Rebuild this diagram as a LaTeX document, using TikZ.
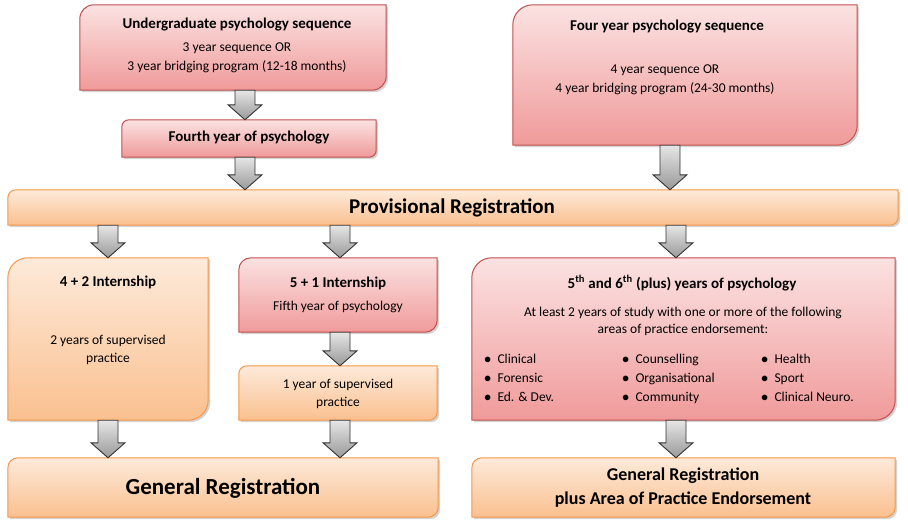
\documentclass[tikz,border=0pt]{standalone}
\usepackage{fontspec}
\setmainfont{Carlito}
\usetikzlibrary{backgrounds,shadows,calc}
\definecolor{obord}{HTML}{F79646}
\definecolor{otop}{HTML}{FDEADA}
\definecolor{obot}{HTML}{FAC08F}
\definecolor{pbord}{HTML}{C0504D}
\definecolor{ptop}{HTML}{FBE2E2}
\definecolor{pbot}{HTML}{F09A9A}
\tikzset{
 frame/.style={inner sep=0pt,draw=none},
 orange/.style={draw=obord,line width=1pt,top color=otop,bottom color=obot,drop shadow={opacity=0.35,shadow xshift=2pt,shadow yshift=-2pt}},
 pink/.style={draw=pbord,line width=1pt,top color=ptop,bottom color=pbot,drop shadow={opacity=0.35,shadow xshift=2pt,shadow yshift=-2pt}},
 ttl/.style={font=\bfseries\fontsize{15}{18}\selectfont,inner sep=0pt},
 txt/.style={font=\fontsize{13.5}{16}\selectfont,inner sep=0pt,align=center},
 arr/.style={draw=black!80,line width=0.9pt,top color=black!10,bottom color=black!40,line join=miter},
}
\newcommand\shapebox[3]{%
 \path[#2] (#1.west) [rounded corners=#3] -- (#1.north west) -- (#1.north) [sharp corners] -- (#1.north east) -- (#1.east) [rounded corners=#3] -- (#1.south east) -- (#1.south) [sharp corners] -- (#1.south west) -- cycle;}
\newcommand\barrow[3]{% x, from, to
 \path[arr] let \p1=(#2.south), \p2=(#3.north) in
 (#1-10,\y1) -- (#1+10,\y1) -- (#1+10,\y2+15) -- (#1+17,\y2+15) -- (#1,\y2) -- (#1-17,\y2+15) -- (#1-10,\y2+15) -- cycle;}
\begin{document}
\begin{tikzpicture}[x=1pt,y=1pt]
\useasboundingbox (0,0) rectangle (908,-525);
\node[frame,minimum width=306,minimum height=85] (u) at (233,-47.5) {};
\node[frame,minimum width=254,minimum height=37] (f4) at (249,-138.5) {};
\node[frame,minimum width=344,minimum height=140] (fy) at (685,-75) {};
\node[frame,minimum width=890,minimum height=35] (pr) at (453,-207.5) {};
\node[frame,minimum width=200,minimum height=162] (i42) at (108,-339) {};
\node[frame,minimum width=198,minimum height=74] (i51) at (338,-295) {};
\node[frame,minimum width=198,minimum height=54] (y1) at (338,-393) {};
\node[frame,minimum width=423,minimum height=162] (s56) at (683.5,-339) {};
\node[frame,minimum width=430,minimum height=59] (gr) at (223,-487.5) {};
\node[frame,minimum width=423,minimum height=59] (gp) at (683.5,-487.5) {};
\shapebox{u}{pink}{14}
\shapebox{f4}{pink}{7}
\shapebox{fy}{pink}{20}
\shapebox{pr}{orange}{8}
\shapebox{i42}{orange}{20}
\shapebox{i51}{pink}{12}
\shapebox{y1}{orange}{8}
\shapebox{s56}{pink}{20}
\shapebox{gr}{orange}{10}
\shapebox{gp}{orange}{10}
\barrow{245}{u}{f4}
\barrow{245}{f4}{pr}
\barrow{670}{fy}{pr}
\barrow{108}{pr}{i42}
\barrow{340}{pr}{i51}
\barrow{676}{pr}{s56}
\barrow{340}{i51}{y1}
\barrow{108}{i42}{gr}
\barrow{340}{y1}{gr}
\barrow{676}{s56}{gp}
\node[ttl] (ut) at (237,-25) {Undergraduate psychology sequence};
\node[txt] (ub) at (237,-58) {3 year sequence OR\\[3pt]3 year bridging program (12-18 months)};
\node[ttl] (f4t) at (249,-138) {Fourth year of psychology};
\node[ttl] (fyt) at (667,-27) {Four year psychology sequence};
\node[txt] (fyb) at (665,-80) {4 year sequence OR\\[3pt]4 year bridging program (24-30 months)};
\node[font=\bfseries\fontsize{21}{24}\selectfont,inner sep=0pt] (prt) at (452,-208) {Provisional Registration};
\node[ttl] (i42t) at (108,-282) {4 + 2 Internship};
\node[txt] (i42b) at (108,-350) {2 years of supervised\\[2pt]practice};
\node[ttl] (i51t) at (338,-283) {5 + 1 Internship};
\node[txt] (i51b) at (338,-307) {Fifth year of psychology};
\node[txt] (y1b) at (338,-394) {1 year of supervised\\[2pt]practice};
\node[ttl] (s56t) at (682,-283) {5\textsuperscript{th} and 6\textsuperscript{th} (plus) years of psychology};
\node[txt] (s56b) at (683,-321) {At least 2 years of study with one or more of the following\\[1pt]areas of practice endorsement:};
\node[txt,align=left,anchor=north west] (c1) at (484,-354) {$\bullet$\ \ Clinical\\[3pt]$\bullet$\ \ Forensic\\[3pt]$\bullet$\ \ Ed. \& Dev.};
\node[txt,align=left,anchor=north west] (c2) at (622,-354) {$\bullet$\ \ Counselling\\[3pt]$\bullet$\ \ Organisational\\[3pt]$\bullet$\ \ Community};
\node[txt,align=left,anchor=north west] (c3) at (761,-354) {$\bullet$\ \ Health\\[3pt]$\bullet$\ \ Sport\\[3pt]$\bullet$\ \ Clinical Neuro.};
\node[font=\bfseries\fontsize{23}{26}\selectfont,inner sep=0pt] (grt) at (223,-488) {General Registration};
\node[font=\bfseries\fontsize{18}{24}\selectfont,inner sep=0pt,align=center] (gpt) at (683,-488) {General Registration\\plus Area of Practice Endorsement};
\end{tikzpicture}
\end{document}
